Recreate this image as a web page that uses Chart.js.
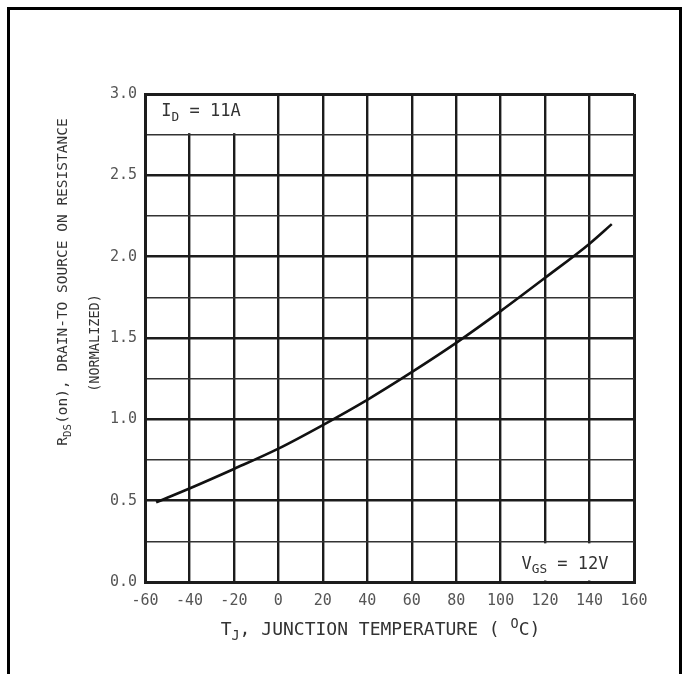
<!DOCTYPE html>
<html>
<head>
<meta charset="utf-8">
<script src="https://cdn.jsdelivr.net/npm/chart.js@4.4.1/dist/chart.umd.min.js"></script>
<style>
	html, body { margin: 0; padding: 0; background: #fff; overflow: hidden; }
	#quadro {
		position: absolute; left: 7px; top: 7px; width: 675px; height: 700px;
		box-sizing: border-box; border: 3px solid #000; border-bottom: none;
	}
	#grafico { position: absolute; left: 0; top: 0; }
</style>
</head>
<body>
<div id="quadro"></div>
<canvas id="grafico" width="683" height="674"></canvas>
<script>
// dados (Tj em graus C, Rds(on) normalizado)
var temperaturas = [-55, -40, -20, 0, 20, 40, 60, 80, 100, 120, 140, 150];
var rdsOn = [0.49, 0.575, 0.695, 0.82, 0.965, 1.12, 1.29, 1.47, 1.665, 1.87, 2.08, 2.2];

var eixoX = { min: -60, max: 160, passo: 20 };
var eixoY = { min: 0, max: 3, passo: 0.25 };

// caixas de legenda dentro da grade: [x1, x2, y1, y2]
var caixaId = [-60, 0, 2.75, 3.0];
var caixaVgs = [100, 160, 0, 0.25];

var FONTE = "'DejaVu Sans Mono', 'Liberation Mono', monospace";
var COR_TEXTO = '#333';
var COR_LINHA = '#1c1c1c';

function ehMaior(v) {
	return Math.abs(v * 2 - Math.round(v * 2)) < 1e-6;
}

// desenha texto com partes subscritas, centrado em (x, y)
function textoRico(ctx, partes, x, y, tam) {
	var total = 0;
	partes.forEach(function(p) {
		ctx.font = ((p.sub || p.sup) ? tam * 0.75 : tam) + 'px ' + FONTE;
		p.w = ctx.measureText(p.t).width;
		total += p.w;
	});
	var cx = x - total / 2;
	ctx.textAlign = 'left';
	ctx.textBaseline = 'middle';
	partes.forEach(function(p) {
		ctx.font = ((p.sub || p.sup) ? tam * 0.75 : tam) + 'px ' + FONTE;
		var dy = p.sub ? tam * 0.35 : (p.sup ? -tam * 0.3 : 0);
		ctx.fillText(p.t, cx, y + dy);
		cx += p.w;
	});
}

var pluginTextos = {
	id: 'textos',
	beforeDatasetsDraw: function(chart) {
		var ctx = chart.ctx, sx = chart.scales.x, sy = chart.scales.y;
		ctx.save();
		ctx.fillStyle = '#fff';
		[caixaId, caixaVgs].forEach(function(c) {
			var x1 = sx.getPixelForValue(c[0]) + 2, x2 = sx.getPixelForValue(c[1]) - 1.5;
			var y1 = sy.getPixelForValue(c[3]) + 2, y2 = sy.getPixelForValue(c[2]) - 1.5;
			ctx.fillRect(x1, y1, x2 - x1, y2 - y1);
		});
		ctx.restore();
	},
	afterDraw: function(chart) {
		var ctx = chart.ctx, a = chart.chartArea, sy = chart.scales.y;
		ctx.save();
		ctx.fillStyle = COR_TEXTO;

		// caixas
		textoRico(ctx, [{t: 'I'}, {t: 'D', sub: true}, {t: ' = 11A'}],
			201, sy.getPixelForValue(2.89), 17);
		textoRico(ctx, [{t: 'V'}, {t: 'GS', sub: true}, {t: ' = 12V'}],
			565, sy.getPixelForValue(0.11), 17);

		// titulo eixo X
		textoRico(ctx, [{t: 'T'}, {t: 'J', sub: true}, {t: ', JUNCTION TEMPERATURE ( '}, {t: 'O', sup: true}, {t: 'C)'}],
			(a.left + a.right) / 2 - 9, a.bottom + 48, 18);

		// titulo eixo Y (duas linhas)
		var meio = (a.top + a.bottom) / 2;
		ctx.save();
		ctx.translate(a.left - 82, meio - 56);
		ctx.rotate(-Math.PI / 2);
		textoRico(ctx, [{t: 'R'}, {t: 'DS', sub: true}, {t: '(on), DRAIN-TO SOURCE ON RESISTANCE'}], 0, 0, 14.5);
		ctx.restore();

		ctx.save();
		ctx.translate(a.left - 50, meio + 5);
		ctx.rotate(-Math.PI / 2);
		textoRico(ctx, [{t: '(NORMALIZED)'}], 0, 0, 13.5);
		ctx.restore();

		ctx.restore();
	}
};

var pontos = temperaturas.map(function(t, i) {
	return { x: t, y: rdsOn[i] };
});

var grafico = new Chart(document.getElementById('grafico'), {
	type: 'scatter',
	data: {
		datasets: [{
			data: pontos,
			showLine: true,
			borderColor: '#111',
			borderWidth: 2.6,
			pointRadius: 0,
			cubicInterpolationMode: 'monotone',
			fill: false
		}]
	},
	options: {
		responsive: false,
		animation: false,
		events: [],
		layout: { padding: { left: 100, right: 49, top: 94, bottom: 42 } },
		plugins: { legend: { display: false }, tooltip: { enabled: false } },
		scales: {
			x: {
				type: 'linear',
				min: eixoX.min, max: eixoX.max,
				afterFit: function(s) { s.height = 50; },
				border: { display: true, color: COR_LINHA, width: 3 },
				grid: {
					color: COR_LINHA,
					drawTicks: false,
					lineWidth: function(c) {
						return (c.tick && (c.tick.value === eixoX.min || c.tick.value === eixoX.max)) ? 3 : 2.4;
					}
				},
				ticks: {
					stepSize: eixoX.passo,
					padding: 10,
					color: '#555',
					font: { family: FONTE, size: 15 },
					maxRotation: 0,
					autoSkip: false,
					callback: function(v) { return v; }
				}
			},
			y: {
				type: 'linear',
				min: eixoY.min, max: eixoY.max,
				afterFit: function(s) { s.width = 45; },
				border: { display: true, color: COR_LINHA, width: 3 },
				grid: {
					color: function(c) { return c.tick && ehMaior(c.tick.value) ? COR_LINHA : '#333'; },
					drawTicks: false,
					lineWidth: function(c) {
						if (!c.tick) return 1.6;
						if (c.tick.value === eixoY.max) return 3;
						return ehMaior(c.tick.value) ? 2.6 : 1.6;
					}
				},
				ticks: {
					stepSize: eixoY.passo,
					padding: 8,
					color: '#555',
					font: { family: FONTE, size: 15 },
					autoSkip: false,
					callback: function(v) { return ehMaior(v) ? v.toFixed(1) : ''; }
				}
			}
		}
	},
	plugins: [pluginTextos]
});
</script>
</body>
</html>
